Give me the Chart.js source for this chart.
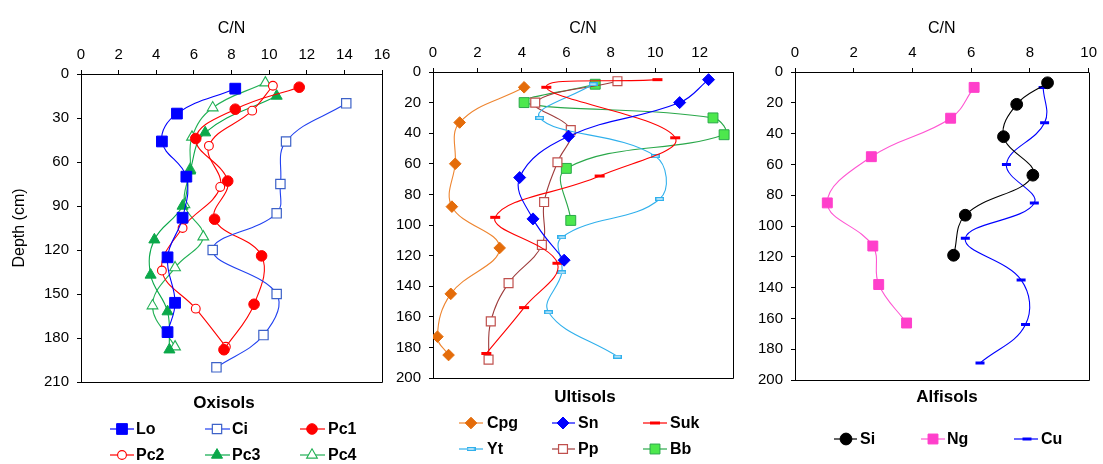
<!DOCTYPE html>
<html>
<head>
<meta charset="utf-8">
<script src="https://cdn.jsdelivr.net/npm/chart.js@4.4.1/dist/chart.umd.min.js"></script>
<style>
  html, body { margin: 0; padding: 0; background: #fff; }
  #wrap { position: relative; width: 1103px; height: 464px; overflow: hidden; background: #fff; }
  #wrap canvas { position: absolute; left: 0; top: 0; }
</style>
</head>
<body>
<div id="wrap">
  <canvas id="oxisols" width="1103" height="464"></canvas>
  <canvas id="ultisols" width="1103" height="464"></canvas>
  <canvas id="alfisols" width="1103" height="464"></canvas>
</div>
<script>
// ---------- Oxisols: depth (cm) and C/N ratio per profile ----------
const loDepth  = [10, 27, 46, 70, 98, 125, 156, 176];
const loCN     = [8.2, 5.1, 4.3, 5.6, 5.4, 4.6, 5.0, 4.6];
const ciDepth  = [20, 46, 75, 95, 120, 150, 178, 200];
const ciCN     = [14.1, 10.9, 10.6, 10.4, 7.0, 10.4, 9.7, 7.2];
const pc1Depth = [9, 24, 44, 73, 99, 124, 157, 188];
const pc1CN    = [11.6, 8.2, 6.1, 7.8, 7.1, 9.6, 9.2, 7.6];
const pc2Depth = [8, 25, 49, 77, 105, 134, 160, 186];
const pc2CN    = [10.2, 9.1, 6.8, 7.4, 5.4, 4.3, 6.1, 7.7];
const pc3Depth = [15, 40, 66, 90, 113, 137, 162, 188];
const pc3CN    = [10.4, 6.6, 5.8, 5.4, 3.9, 3.7, 4.6, 4.7];
const pc4Depth = [6, 23, 43, 65, 89, 111, 132, 158, 186];
const pc4CN    = [9.8, 7.0, 5.9, 5.8, 5.5, 6.5, 5.0, 3.8, 5.0];

// ---------- Ultisols ----------
const cpgDepth = [10, 33, 60, 88, 115, 145, 173, 185];
const cpgCN    = [4.1, 1.2, 1.0, 0.85, 3.0, 0.8, 0.2, 0.7];
const snDepth  = [5, 20, 42, 69, 96, 123];
const snCN     = [12.4, 11.1, 6.1, 3.9, 4.5, 5.9];
const sukDepth = [5, 10, 43, 68, 95, 125, 154, 184];
const sukCN    = [10.1, 5.1, 10.9, 7.5, 2.8, 5.6, 4.1, 2.4];
const ytDepth  = [8, 30, 55, 83, 108, 131, 157, 186];
const ytCN     = [7.2, 4.8, 10.0, 10.2, 5.8, 5.8, 5.2, 8.3];
const ppDepth  = [6, 20, 38, 59, 85, 113, 138, 163, 188];
const ppCN     = [8.3, 4.6, 6.2, 5.6, 5.0, 4.9, 3.4, 2.6, 2.5];
const bbDepth  = [8, 20, 30, 41, 63, 97];
const bbCN     = [7.3, 4.1, 12.6, 13.1, 6.0, 6.2];

// ---------- Alfisols ----------
const siDepth  = [7, 21, 42, 67, 93, 119];
const siCN     = [8.6, 7.55, 7.1, 8.1, 5.8, 5.4];
const ngDepth  = [10, 30, 55, 85, 113, 138, 163];
const ngCN     = [6.1, 5.3, 2.6, 1.1, 2.65, 2.85, 3.8];
const cuDepth  = [10, 33, 60, 85, 108, 135, 164, 189];
const cuCN     = [8.45, 8.5, 7.2, 8.15, 5.8, 7.7, 7.85, 6.3];

// ---------- axis ranges and tick steps ----------
const oxiXMax = 16, oxiYMax = 210, oxiYStep = 30;
const ultXMax = 13.5, ultYMax = 200, ultYStep = 20;
const alfXMax = 10, alfYMax = 200, alfYStep = 20;
const xStep = 2;

const FONT = "'Liberation Sans', Arial, Helvetica, sans-serif";

// small open horizontal bar used as a marker
function openDash(stroke, w, h) {
  const c = document.createElement('canvas');
  c.width = w; c.height = h;
  const g = c.getContext('2d');
  g.fillStyle = '#fff';
  g.fillRect(0, 0, w, h);
  g.strokeStyle = stroke;
  g.lineWidth = 1.4;
  g.strokeRect(0.7, 0.7, w - 1.4, h - 1.4);
  return c;
}

function series(label, cn, depth, st) {
  return {
    label,
    data: cn.map((v, i) => ({ x: v, y: depth[i] })),
    showLine: true,
    tension: 0.4,
    borderColor: st.line,
    borderWidth: st.lw || 1.1,
    pointStyle: st.style,
    pointRadius: st.r,
    pointHoverRadius: st.r,
    pointBackgroundColor: st.fill,
    pointBorderColor: st.border,
    pointBorderWidth: st.bw,
    pointRotation: 0
  };
}

// marker / line styles
const S = {
  lo:  { line: '#0000FF', style: 'rect', r: 7.6, fill: '#0000FF', border: '#0000FF', bw: 1 },
  ci:  { line: '#2040F0', style: 'rect', r: 6.6, fill: '#FFFFFF', border: '#3D62C8', bw: 1.2 },
  pc1: { line: '#FF0000', style: 'circle', r: 5.3, fill: '#FF0000', border: '#FF0000', bw: 1 },
  pc2: { line: '#FF0000', style: 'circle', r: 4.4, fill: '#FFFFFF', border: '#FF0000', bw: 1.1 },
  pc3: { line: '#0BA84A', style: 'triangle', r: 6.4, fill: '#0BA84A', border: '#0BA84A', bw: 1 },
  pc4: { line: '#22B055', style: 'triangle', r: 6.2, fill: '#FFFFFF', border: '#22B055', bw: 1.1 },
  cpg: { line: '#EE8530', style: 'rectRot', r: 5.8, fill: '#E46C0A', border: '#E46C0A', bw: 1 },
  sn:  { line: '#0000FF', style: 'rectRot', r: 6, fill: '#0000FF', border: '#0000FF', bw: 1 },
  suk: { line: '#FF0000', style: 'line', r: 5, fill: '#FF0000', border: '#FF0000', bw: 3 },
  yt:  { line: '#30B0EC', style: openDash('#30B0EC', 9, 4), r: 4, fill: '#FFFFFF', border: '#30B0EC', bw: 1 },
  pp:  { line: '#9E3C3C', style: 'rect', r: 6.3, fill: '#FFFFFF', border: '#C0504D', bw: 1.2 },
  bb:  { line: '#2AA84A', style: 'rect', r: 7, fill: '#4DE84D', border: '#2AA84A', bw: 1 },
  si:  { line: '#000000', style: 'circle', r: 5.9, fill: '#000000', border: '#000000', bw: 1 },
  ng:  { line: '#FF55D2', style: 'rect', r: 7, fill: '#FF3FCB', border: '#FF3FCB', bw: 1 },
  cu:  { line: '#0000FF', style: 'line', r: 4.5, fill: '#0000FF', border: '#0000FF', bw: 3 }
};

// frame, panel caption and legend drawn on top of each panel
const panelDecor = {
  id: 'panelDecor',
  afterDraw(chart, args, opts) {
    const ctx = chart.ctx;
    const a = chart.chartArea;
    ctx.save();
    // right and bottom edges of the frame
    ctx.strokeStyle = '#000';
    ctx.lineWidth = 1;
    const r = Math.round(a.right) + 0.5, b = Math.round(a.bottom) + 0.5;
    const l = Math.round(a.left) + 0.5, t = Math.round(a.top) + 0.5;
    ctx.beginPath();
    ctx.moveTo(r, t); ctx.lineTo(r, b); ctx.lineTo(l, b);
    ctx.stroke();

    // caption
    ctx.fillStyle = '#000';
    ctx.font = 'bold 17px ' + FONT;
    ctx.textAlign = 'center';
    ctx.textBaseline = 'middle';
    ctx.fillText(opts.caption.text, opts.caption.x, opts.caption.y);

    // legend
    ctx.font = 'bold 16px ' + FONT;
    ctx.textAlign = 'left';
    opts.items.forEach(it => {
      const ds = chart.data.datasets[it.index];
      ctx.strokeStyle = ds.borderColor;
      ctx.lineWidth = 1.2;
      ctx.beginPath();
      ctx.moveTo(it.x0, it.y); ctx.lineTo(it.x1, it.y);
      ctx.stroke();
      ctx.fillStyle = ds.pointBackgroundColor;
      ctx.strokeStyle = ds.pointBorderColor;
      ctx.lineWidth = ds.pointBorderWidth;
      Chart.helpers.drawPoint(ctx, {
        pointStyle: ds.pointStyle, radius: ds.pointRadius, rotation: 0,
        borderWidth: ds.pointBorderWidth
      }, it.mx, it.y);
      ctx.fillStyle = '#000';
      ctx.fillText(ds.label, it.tx, it.y + 1);
    });
    ctx.restore();
  }
};

function makePanel(id, box, xMax, yMax, yStep, datasets, yTitle, caption, items) {
  const tickFont = { family: FONT, size: 15 };
  return new Chart(document.getElementById(id), {
    type: 'scatter',
    data: { datasets },
    plugins: [panelDecor],
    options: {
      responsive: false,
      animation: false,
      events: [],
      layout: { padding: { left: 0, top: 0, right: 1103 - box.right, bottom: 464 - box.bottom } },
      plugins: {
        legend: { display: false },
        tooltip: { enabled: false },
        panelDecor: { caption, items }
      },
      scales: {
        x: {
          type: 'linear',
          position: 'top',
          min: 0, max: xMax,
          ticks: { stepSize: xStep, includeBounds: false, font: tickFont, color: '#000', padding: 6, maxRotation: 0 },
          grid: { display: true, drawOnChartArea: false, drawTicks: true, tickLength: 4, color: '#000' },
          border: { display: true, color: '#000', width: 1 },
          title: { display: true, text: 'C/N', font: { family: FONT, size: 16 }, color: '#000', padding: { top: 19, bottom: 0 } },
          afterFit(scale) { scale.height = box.top; }
        },
        y: {
          type: 'linear',
          position: 'left',
          reverse: true,
          min: 0, max: yMax,
          ticks: { stepSize: yStep, includeBounds: false, font: tickFont, color: '#000', padding: 8 },
          grid: { display: true, drawOnChartArea: false, drawTicks: true, tickLength: 4, color: '#000' },
          border: { display: true, color: '#000', width: 1 },
          title: { display: !!yTitle, text: yTitle || '', font: { family: FONT, size: 16 }, color: '#000', padding: { top: 10, bottom: 0 } },
          afterFit(scale) { scale.width = box.left; }
        }
      }
    }
  });
}

function row(y, cols, indices) {
  return indices.map((idx, k) => ({ index: idx, y, x0: cols[k][0], x1: cols[k][1], mx: cols[k][2], tx: cols[k][3] }));
}

// Oxisols panel
const oxiCols = [[110, 134, 122, 136], [205, 230, 217, 232], [300, 325, 312, 328]];
makePanel('oxisols', { left: 81, right: 382, top: 74, bottom: 382 }, oxiXMax, oxiYMax, oxiYStep, [
  series('Lo',  loCN,  loDepth,  S.lo),
  series('Ci',  ciCN,  ciDepth,  S.ci),
  series('Pc1', pc1CN, pc1Depth, S.pc1),
  series('Pc2', pc2CN, pc2Depth, S.pc2),
  series('Pc3', pc3CN, pc3Depth, S.pc3),
  series('Pc4', pc4CN, pc4Depth, S.pc4)
], 'Depth (cm)', { text: 'Oxisols', x: 224, y: 403 },
  row(429, oxiCols, [0, 1, 2]).concat(row(455, oxiCols, [3, 4, 5])));

// Ultisols panel
const ultCols = [[459, 483, 471, 487], [552, 575, 563, 578], [643, 667, 655, 670]];
makePanel('ultisols', { left: 433, right: 733, top: 72, bottom: 378 }, ultXMax, ultYMax, ultYStep, [
  series('Cpg', cpgCN, cpgDepth, S.cpg),
  series('Sn',  snCN,  snDepth,  S.sn),
  series('Suk', sukCN, sukDepth, S.suk),
  series('Yt',  ytCN,  ytDepth,  S.yt),
  series('Pp',  ppCN,  ppDepth,  S.pp),
  series('Bb',  bbCN,  bbDepth,  S.bb)
], null, { text: 'Ultisols', x: 585, y: 397 },
  row(423, ultCols, [0, 1, 2]).concat(row(449, ultCols, [3, 4, 5])));

// Alfisols panel
const alfCols = [[834, 857, 846, 860], [921, 945, 933, 947], [1014, 1038, 1027, 1041]];
makePanel('alfisols', { left: 795, right: 1094, top: 72, bottom: 380 }, alfXMax, alfYMax, alfYStep, [
  series('Si', siCN, siDepth, S.si),
  series('Ng', ngCN, ngDepth, S.ng),
  series('Cu', cuCN, cuDepth, S.cu)
], null, { text: 'Alfisols', x: 947, y: 397 },
  row(439, alfCols, [0, 1, 2]));
</script>
</body>
</html>
